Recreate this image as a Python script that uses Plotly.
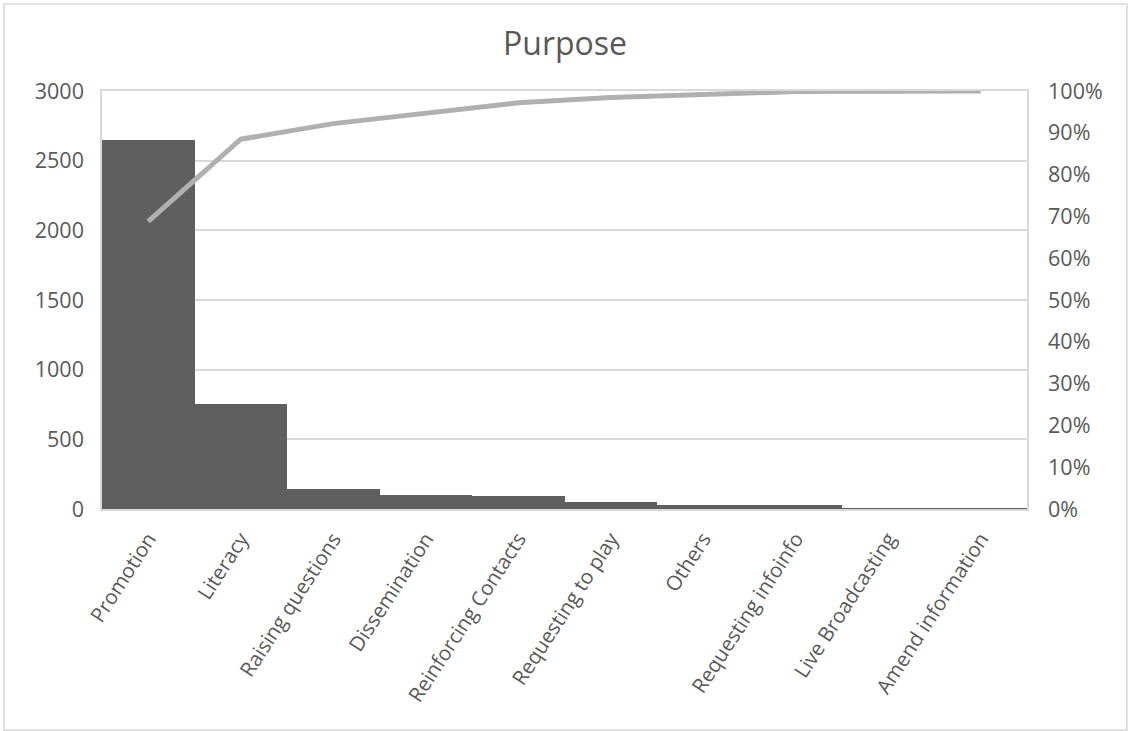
import plotly.graph_objects as go

# Purpose categories and message counts (Pareto order)
categories = [
    "Promotion", "Literacy", "Raising questions", "Dissemination",
    "Reinforcing Contacts", "Requesting to play", "Others",
    "Requesting infoinfo", "Live Broadcasting", "Amend information",
]
counts = [2645, 755, 143, 100, 92, 48, 28, 27, 3, 2]

# Cumulative share for the Pareto line
total = sum(counts)
cumulative = []
running = 0
for c in counts:
    running += c
    cumulative.append(running / total)

left_ticks = [0, 500, 1000, 1500, 2000, 2500, 3000]
right_ticks = [i / 10 for i in range(11)]

TEXT = "#595959"
GRID = "#d9d9d9"
FONT = "Open Sans"

fig = go.Figure()
fig.add_trace(go.Bar(
    x=categories, y=counts,
    marker=dict(color="#5f5f5f", line=dict(width=0)),
    yaxis="y", showlegend=False,
))
fig.add_trace(go.Scatter(
    x=categories, y=cumulative,
    mode="lines", line=dict(color="#b0b0b0", width=5),
    yaxis="y2", showlegend=False,
))

fig.update_layout(
    width=1130, height=731,
    margin=dict(l=102, r=103, t=91, b=222),
    paper_bgcolor="white", plot_bgcolor="white",
    bargap=0,
    font=dict(family=FONT, color=TEXT, size=21),
    title=dict(text="Purpose", x=0.5, xanchor="center", y=0.94, yanchor="middle",
               font=dict(family=FONT, size=32, color=TEXT)),
    xaxis=dict(
        tickangle=-57, showgrid=False, showline=True, linecolor=GRID, linewidth=1.5,
        mirror=True, ticks="", tickfont=dict(size=20.5, color=TEXT),
        ticklabelstandoff=8,
    ),
    yaxis=dict(
        range=[0, 3000], tickvals=left_ticks, showgrid=True, gridcolor=GRID, gridwidth=1.5,
        showline=True, linecolor=GRID, linewidth=1.5, zeroline=False,
        tickfont=dict(size=21.5, color=TEXT), ticks="", ticklabelstandoff=12,
    ),
    yaxis2=dict(
        range=[0, 1], tickvals=right_ticks, tickformat=".0%", overlaying="y",
        side="right", showgrid=False, showline=True, linecolor=GRID, linewidth=1.5,
        zeroline=False, tickfont=dict(size=21.5, color=TEXT), ticks="", ticklabelstandoff=15,
    ),
    shapes=[dict(
        type="rect", xref="paper", yref="paper",
        x0=-0.106, x1=1.108, y0=-0.529, y1=1.208,
        line=dict(color=GRID, width=1.5), fillcolor="rgba(0,0,0,0)", layer="below",
    )],
)

fig.write_html("out.html")
